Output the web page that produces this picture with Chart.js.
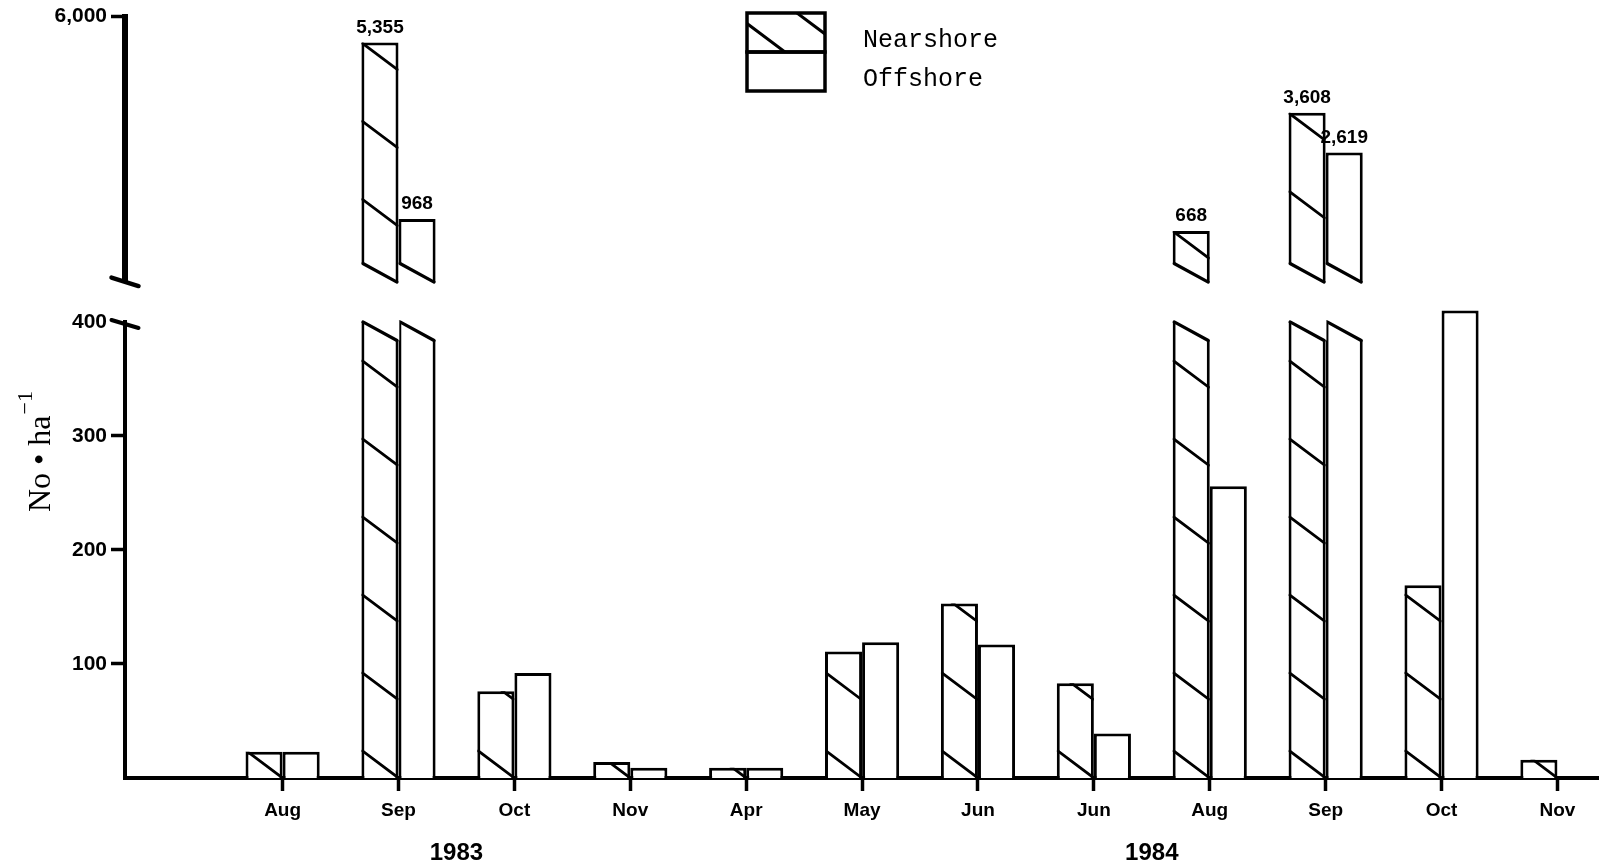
<!DOCTYPE html>
<html>
<head>
<meta charset="utf-8">
<script src="https://cdn.jsdelivr.net/npm/chart.js@4/dist/chart.umd.min.js"></script>
<style>
  html, body { margin: 0; padding: 0; background: #fff; }
  canvas { display: block; }
</style>
</head>
<body>
<canvas id="chart" width="1606" height="868" style="width:1606px;height:868px"></canvas>
<script>
// Sampling months and the two survey years
const months = ['Aug', 'Sep', 'Oct', 'Nov', 'Apr', 'May', 'Jun', 'Jun', 'Aug', 'Sep', 'Oct', 'Nov'];
const years = ['1983', '1984'];
const yearFirstIndex = [0, 4];
const yearLastIndex = [3, 11];

// Density, No. per ha
const nearshore = [23, 5355, 76, 14, 9, 111, 153, 83, 668, 3608, 169, 16];
const offshore  = [23, 968, 92, 9, 9, 119, 117, 39, 256, 2619, 410, null];
const seriesNames = ['Nearshore', 'Offshore'];

// Axis ticks of the two panels
const lowTicks = [100, 200, 300, 400];
const highTicks = [6000];

const LOW_MAX = 400;      // top of the lower panel
const BREAK_AT = 500;     // larger values continue in the upper panel
const HIGH_MIN = -600;    // bottom edge of the upper panel
const HIGH_MAX = 6000;

const INK = '#000';
const BAR_BORDER = 3;
const HATCH_GAP = 78;
const HATCH_SLOPE = 0.75;
const CUT_SLOPE = 0.5;

const isBroken = v => v != null && v > BREAK_AT;
const points = (arr, keep) => arr.map((v, i) => ({ x: i, y: keep(v) ? v : null }));

const barStyle = {
  backgroundColor: '#fff',
  borderColor: INK,
  borderWidth: BAR_BORDER,
  borderSkipped: 'start',
  categoryPercentage: 0.64,
  barPercentage: 1.0,
  clip: false
};

function barRect(el) {
  const p = el.getProps(['x', 'y', 'base', 'width'], true);
  return {
    left: p.x - p.width / 2,
    right: p.x + p.width / 2,
    top: Math.min(p.y, p.base),
    bottom: Math.max(p.y, p.base)
  };
}

// Diagonal "\" hatching; lines meet the right edge at yRef + k * gap
function drawHatch(ctx, r, yRef, gap, width) {
  const w = r.right - r.left;
  const drop = w * HATCH_SLOPE;
  ctx.save();
  ctx.beginPath();
  ctx.rect(r.left, r.top, w, r.bottom - r.top);
  ctx.clip();
  ctx.strokeStyle = INK;
  ctx.lineWidth = width;
  ctx.beginPath();
  const kMin = Math.floor((r.top - yRef) / gap) - 1;
  const kMax = Math.ceil((r.bottom + drop - yRef) / gap) + 1;
  for (let k = kMin; k <= kMax; k++) {
    const yEnd = yRef + k * gap;
    ctx.moveTo(r.left, yEnd - drop);
    ctx.lineTo(r.right, yEnd);
  }
  ctx.stroke();
  ctx.restore();
}

const brokenBarsPlugin = {
  id: 'brokenBars',
  beforeDatasetDraw(chart, args) {
    const ds = chart.data.datasets[args.index];
    if (ds.panel !== 'low') return;
    const ctx = chart.ctx;
    const cutY = chart.scales.yLo.getPixelForValue(LOW_MAX);
    ctx.save();
    ctx.beginPath();
    args.meta.data.forEach((el, i) => {
      const v = ds.data[i].y;
      if (v == null) return;
      const r = barRect(el);
      const top = isBroken(v) ? cutY : 0;
      ctx.rect(r.left - 3, top, r.right - r.left + 6, chart.chartArea.bottom + 10 - top);
    });
    ctx.clip();
  },
  afterDatasetDraw(chart, args) {
    const ds = chart.data.datasets[args.index];
    const ctx = chart.ctx;
    if (ds.hatch) {
      args.meta.data.forEach((el, i) => {
        if (ds.data[i].y == null) return;
        const r = barRect(el);
        const drop = (r.right - r.left) * HATCH_SLOPE;
        const yRef = ds.panel === 'low' ? r.bottom : r.top + drop;
        drawHatch(ctx, r, yRef, HATCH_GAP, 2.8);
      });
    }
    if (ds.panel === 'low') ctx.restore();

    // slanted cut where a bar crosses the axis break
    args.meta.data.forEach((el, i) => {
      const v = ds.data[i].y;
      if (!isBroken(v)) return;
      const r = barRect(el);
      const lx = r.left + BAR_BORDER / 2;
      const rx = r.right - BAR_BORDER / 2;
      const drop = (r.right - r.left) * CUT_SLOPE;
      ctx.save();
      ctx.fillStyle = '#fff';
      ctx.beginPath();
      if (ds.panel === 'low') {
        const cutY = chart.scales.yLo.getPixelForValue(LOW_MAX);
        ctx.moveTo(r.left, cutY - 1);
        ctx.lineTo(r.right + 0.8, cutY - 1);
        ctx.lineTo(r.right + 0.8, cutY + drop);
        ctx.lineTo(lx, cutY);
        ctx.closePath();
        ctx.fill();
        ctx.beginPath();
        ctx.moveTo(lx, cutY);
        ctx.lineTo(rx, cutY + drop);
      } else {
        const B = r.bottom;
        ctx.moveTo(r.left - 1, B - drop - 1);
        ctx.lineTo(rx, B);
        ctx.lineTo(rx, B + 4);
        ctx.lineTo(r.left - 1, B + 4);
        ctx.closePath();
        ctx.fill();
        ctx.beginPath();
        ctx.moveTo(lx, B - drop);
        ctx.lineTo(rx, B);
      }
      ctx.strokeStyle = INK;
      ctx.lineWidth = 3.2;
      ctx.lineCap = 'round';
      ctx.stroke();
      ctx.restore();
    });
  }
};

const decorPlugin = {
  id: 'decor',
  afterDraw(chart) {
    const ctx = chart.ctx;
    const area = chart.chartArea;
    const x = chart.scales.x;
    const yLo = chart.scales.yLo;
    const yHi = chart.scales.yHi;

    ctx.save();
    ctx.strokeStyle = INK;
    ctx.fillStyle = INK;
    ctx.lineCap = 'round';

    // break marks on the value axis
    const ax = area.left;
    const y400 = yLo.getPixelForValue(LOW_MAX);
    ctx.lineWidth = 4;
    ctx.beginPath();
    ctx.moveTo(ax - 13.5, y400 - 2);
    ctx.lineTo(ax + 13.5, y400 + 6);
    ctx.stroke();
    ctx.lineWidth = 4.5;
    ctx.beginPath();
    ctx.moveTo(ax - 13.5, yHi.bottom - 4.5);
    ctx.lineTo(ax + 13.5, yHi.bottom + 4);
    ctx.stroke();

    // values written over the upper-panel bars
    ctx.font = 'bold 19px "Liberation Sans"';
    ctx.textAlign = 'center';
    ctx.textBaseline = 'alphabetic';
    chart.data.datasets.forEach((ds, di) => {
      if (ds.panel !== 'high') return;
      chart.getDatasetMeta(di).data.forEach((el, i) => {
        const v = ds.data[i].y;
        if (v == null) return;
        const r = barRect(el);
        ctx.fillText(v.toLocaleString('en-US'), (r.left + r.right) / 2, r.top - 10);
      });
    });

    // year captions under the month labels
    ctx.font = 'bold 24px "Liberation Sans"';
    ctx.textBaseline = 'middle';
    years.forEach((label, k) => {
      const cx = x.getPixelForValue((yearFirstIndex[k] + yearLastIndex[k]) / 2);
      ctx.fillText(label, cx, area.bottom + 75);
    });

    // value-axis title: No • ha^-1
    ctx.save();
    ctx.translate(50, 512);
    ctx.rotate(-Math.PI / 2);
    ctx.textAlign = 'left';
    ctx.textBaseline = 'alphabetic';
    ctx.font = '32px "Liberation Serif"';
    const main = 'No \u2022 ha';
    ctx.fillText(main, 0, 0);
    const w = ctx.measureText(main).width;
    ctx.font = '22px "Liberation Serif"';
    ctx.fillText('\u22121', w + 1, -18);
    ctx.restore();

    // legend
    const bx = 747, by = 13, bw = 78, bh = 39;
    const entries = chart.data.datasets.filter(ds => ds.panel === 'low');
    entries.forEach((ds, k) => {
      const top = by + k * bh;
      if (ds.hatch) {
        drawHatch(ctx, { left: bx, right: bx + bw, top: top, bottom: top + bh }, top + 21, 48, 3);
      }
      ctx.lineWidth = 3.5;
      ctx.lineCap = 'butt';
      ctx.strokeRect(bx, top, bw, bh);
      ctx.font = '25px "Liberation Mono"';
      ctx.textAlign = 'left';
      ctx.textBaseline = 'alphabetic';
      ctx.fillStyle = INK;
      ctx.fillText(ds.label, 863, top + 34);
    });
    ctx.restore();
  }
};

const tickFont = { family: 'Liberation Sans', size: 21, weight: 'bold' };

new Chart(document.getElementById('chart'), {
  type: 'bar',
  data: {
    datasets: [
      Object.assign({ label: seriesNames[0], data: points(nearshore, v => v != null),
        yAxisID: 'yLo', stack: 'near', panel: 'low', hatch: true }, barStyle),
      Object.assign({ label: seriesNames[1], data: points(offshore, v => v != null),
        yAxisID: 'yLo', stack: 'off', panel: 'low', hatch: false }, barStyle),
      Object.assign({ label: seriesNames[0], data: points(nearshore, isBroken),
        yAxisID: 'yHi', stack: 'near', panel: 'high', hatch: true, base: HIGH_MIN }, barStyle),
      Object.assign({ label: seriesNames[1], data: points(offshore, isBroken),
        yAxisID: 'yHi', stack: 'off', panel: 'high', hatch: false, base: HIGH_MIN }, barStyle)
    ]
  },
  options: {
    responsive: false,
    animation: false,
    devicePixelRatio: 1,
    events: [],
    layout: { padding: { top: 15, right: 8, bottom: 0, left: 0 } },
    plugins: { legend: { display: false }, tooltip: { enabled: false } },
    scales: {
      x: {
        type: 'linear',
        position: 'bottom',
        min: -1.36,
        max: 11.35,
        offset: false,
        afterBuildTicks: s => { s.ticks = months.map((_, i) => ({ value: i })); },
        afterFit: s => { s.height = 90; },
        ticks: {
          autoSkip: false, maxRotation: 0, minRotation: 0, padding: 8, color: INK,
          font: { family: 'Liberation Sans', size: 19, weight: 'bold' },
          callback: v => months[v] ?? ''
        },
        grid: { display: true, drawOnChartArea: false, drawTicks: true, tickLength: 13,
                tickWidth: 3.5, tickColor: INK, offset: false },
        border: { display: true, color: INK, width: 4 }
      },
      yLo: {
        type: 'linear', position: 'left', stack: 'value', stackWeight: 457, stacked: false,
        min: 0, max: LOW_MAX,
        afterBuildTicks: s => { s.ticks = lowTicks.map(v => ({ value: v })); },
        afterFit: s => { s.width = 125; },
        ticks: { color: INK, padding: 4, font: tickFont, callback: v => String(v) },
        grid: { display: true, drawOnChartArea: false, drawTicks: true, tickLength: 14, tickWidth: 3.5,
                tickColor: c => (c.tick && c.tick.value === LOW_MAX) ? 'rgba(0,0,0,0)' : INK },
        border: { display: true, color: INK, width: 4 }
      },
      ySpace: {
        type: 'linear', position: 'left', stack: 'value', stackWeight: 40, stacked: false,
        afterFit: s => { s.width = 125; },
        ticks: { display: false },
        grid: { display: false },
        border: { display: false }
      },
      yHi: {
        type: 'linear', position: 'left', stack: 'value', stackWeight: 266, stacked: false,
        min: HIGH_MIN, max: HIGH_MAX,
        afterBuildTicks: s => { s.ticks = highTicks.map(v => ({ value: v })); },
        afterFit: s => { s.width = 125; },
        ticks: { color: INK, padding: 4, font: tickFont, callback: v => v.toLocaleString('en-US') },
        grid: { display: true, drawOnChartArea: false, drawTicks: true, tickLength: 14, tickWidth: 3.5, tickColor: INK },
        border: { display: true, color: INK, width: 6 }
      }
    }
  },
  plugins: [brokenBarsPlugin, decorPlugin]
});
</script>
</body>
</html>
